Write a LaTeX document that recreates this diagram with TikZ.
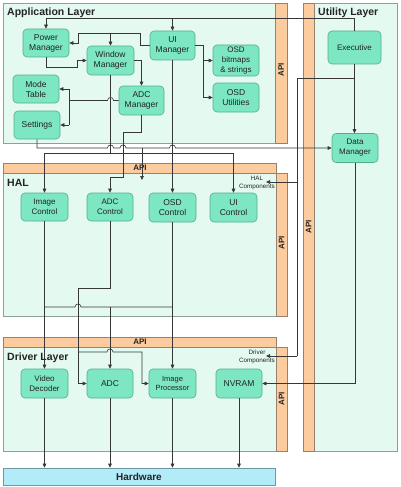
\documentclass[tikz,border=0pt]{standalone}
\usepackage{fontspec}
\setmainfont{Liberation Sans}
\usetikzlibrary{arrows.meta}
\definecolor{layerbg}{RGB}{228,250,241}
\definecolor{layerln}{RGB}{140,162,152}
\definecolor{apibg}{RGB}{252,204,158}
\definecolor{apiln}{RGB}{150,130,110}
\definecolor{boxbg}{RGB}{125,230,194}
\definecolor{boxln}{RGB}{80,175,140}
\definecolor{hwbg}{RGB}{178,236,248}
\definecolor{hwln}{RGB}{110,150,165}
\definecolor{wirec}{RGB}{55,55,55}
\definecolor{txt}{RGB}{35,35,35}
\begin{document}
\begin{tikzpicture}[x=1pt,y=-1pt,
  layer/.style={fill=layerbg,draw=layerln,line width=0.8pt},
  apibar/.style={fill=apibg,draw=apiln,line width=0.6pt},
  comp/.style={draw=boxln,fill=boxbg,rounded corners=4pt,line width=0.6pt,align=center,
    font=\fontsize{8.5}{10}\selectfont,text=txt,inner sep=0pt},
  hwbox/.style={draw=hwln,fill=hwbg,line width=0.6pt,font=\bfseries\fontsize{10}{12}\selectfont,text=txt,inner sep=0pt},
  ttl/.style={anchor=west,font=\bfseries\fontsize{10.5}{12}\selectfont,text=txt,inner sep=0pt},
  apit/.style={font=\bfseries\fontsize{8}{9}\selectfont,text=txt,inner sep=0pt},
  wire/.style={draw=wirec,line width=0.6pt},
  arr/.style={wire,-{Triangle[length=4pt,width=3.6pt]}},
  smalltxt/.style={font=\fontsize{6.3}{8}\selectfont,align=center,text=txt,inner sep=0pt}
]
\useasboundingbox (0,0) rectangle (400,487);
\fill[white] (0,0) rectangle (400,487);

% ---------- layers ----------
% Application
\path[layer] (3,3) rectangle (287,143);
\path[apibar] (275,3) rectangle (287,143);
\node[apit,rotate=90] (apiA) at (281,70) {API};
\node[ttl] (tA) at (7,13) {Application Layer};
% Utility
\path[layer] (303,3) rectangle (397,451);
\path[apibar] (303,3) rectangle (314,451);
\node[apit,rotate=90] (apiU) at (308.5,227) {API};
\node[ttl] (tU) at (318,13) {Utility Layer};
% HAL
\path[layer] (3,173) rectangle (276,316);
\path[apibar] (3,163) rectangle (276,173);
\path[apibar] (276,173) rectangle (287,316);
\node[apit] (apiH) at (140,168) {API};
\node[apit,rotate=90] (apiH2) at (281.5,243) {API};
\node[ttl] (tH) at (7,183) {HAL};
% Driver
\path[layer] (3,347) rectangle (276,451);
\path[apibar] (3,337) rectangle (276,347);
\path[apibar] (276,347) rectangle (287,451);
\node[apit] (apiD) at (140,342) {API};
\node[apit,rotate=90] (apiD2) at (281.5,399) {API};
\node[ttl] (tD) at (7,358) {Driver Layer};

% ---------- components ----------
\node[comp,minimum width=46pt,minimum height=28pt] (pm) at (46,43) {Power\\Manager};
\node[comp,minimum width=47pt,minimum height=29pt] (wm) at (110.5,60.5) {Window\\Manager};
\node[comp,minimum width=45pt,minimum height=29pt] (ui) at (172.5,45.5) {UI\\Manager};
\node[comp,minimum width=46pt,minimum height=31pt,font=\fontsize{8}{10}\selectfont] (osdb) at (236,60.5) {OSD\\bitmaps\\\& strings};
\node[comp,minimum width=46pt,minimum height=29pt] (osdu) at (236,97.5) {OSD\\Utilities};
\node[comp,minimum width=46pt,minimum height=28pt] (mt) at (36,89) {Mode\\Table};
\node[comp,minimum width=45pt,minimum height=29pt] (adcm) at (141.5,100.5) {ADC\\Manager};
\node[comp,minimum width=46pt,minimum height=28pt] (set) at (37,125) {Settings};
\node[comp,minimum width=53pt,minimum height=33pt,font=\fontsize{8}{10}\selectfont] (exe) at (354.5,47.5) {Executive};
\node[comp,minimum width=46pt,minimum height=29pt,font=\fontsize{8}{10}\selectfont] (dm) at (355,148) {Data\\Manager};

\node[comp,minimum width=47pt,minimum height=28pt,font=\fontsize{8}{10}\selectfont] (ic) at (44.5,207) {Image\\Control};
\node[comp,minimum width=46pt,minimum height=28pt,font=\fontsize{8}{10}\selectfont] (adcc) at (110,207) {ADC\\Control};
\node[comp,minimum width=47pt,minimum height=29pt] (osdc) at (172.5,207.5) {OSD\\Control};
\node[comp,minimum width=47pt,minimum height=29pt] (uic) at (233.5,207.5) {UI\\Control};
\node[smalltxt] (halc) at (257,183) {HAL\\Components};

\node[comp,minimum width=47pt,minimum height=29pt,font=\fontsize{8}{10}\selectfont] (vd) at (44.5,383.5) {Video\\Decoder};
\node[comp,minimum width=46pt,minimum height=29pt] (adc) at (110,383.5) {ADC};
\node[comp,minimum width=47pt,minimum height=29pt,font=\fontsize{7.5}{9.5}\selectfont] (ip) at (172.5,383.5) {Image\\Processor};
\node[comp,minimum width=46pt,minimum height=29pt] (nv) at (239,383.5) {NVRAM};
\node[smalltxt] (drvc) at (257,357) {Driver\\Components};

\node[hwbox,minimum width=272pt,minimum height=17pt] (hw) at (139,476.5) {Hardware};

\coordinate (halin) at (142,180);
\coordinate (halcin) at (266,182);
\coordinate (drvcin) at (266,356);

% ---------- connectors: application layer ----------
\draw[arr] (exe.north) -- ++(0,-12) -| (pm.north);
\draw[arr] (ui.north |- 0,19) -- (ui.north);
\draw[arr] (ui.west) -- (140,45.5) -- (140,33) -- (78,33) -- (78,43) -- (pm.east);
\draw[arr] (wm.north |- 0,33) -- (wm.north);
\draw[arr] (pm.south) -- (46,67) -- (77,67) -- (77,60.5) -- (wm.west);
\draw[arr] (wm.east) -| (adcm.north);
\draw[wire] (adcm.west) -- (113.5,100.5) .. controls (113.5,96.5) and (107.5,96.5) .. (107.5,100.5) -- (69,100.5);
\draw[wire] (69,89) -- (69,125);
\draw[arr] (69,89) -- (mt.east);
\draw[arr] (69,125) -- (set.east);
\draw[arr] (ui.east) -- (203,45.5) |- (osdu.west);
\draw[arr] (203,60.5) -- (osdb.west);

% ---------- connectors: application -> HAL / utility ----------
\draw[arr] (set.south) -- (37,148) -- (107.5,148) .. controls (107.5,144) and (113.5,144) .. (113.5,148)
  -- (120,148) .. controls (120,144) and (126,144) .. (126,148)
  -- (169.5,148) .. controls (169.5,144) and (175.5,144) .. (175.5,148) -- (dm.west);
\draw[arr] (142,148) -- (halin);
\draw[wire] (wm.south) -- (110.5,153);
\draw[arr] (110.5,153) -| (ic.north);
\draw[arr] (110.5,153) -| (uic.north);
\draw[arr] (adcm.south) -- (141.5,132) -- (123,132) -- (123,177) -- (110,177) -- (adcc.north);
\draw[arr] (ui.south) -- (osdc.north);

% ---------- utility layer ----------
\draw[arr] (exe.south) -- (exe.south |- dm.north);
\draw[wire] (354.5,78) -- (297,78) -- (297,356);
\draw[arr] (297,356) -- (drvcin);
\draw[arr] (297,182) -- (halcin);
\draw[arr] (dm.south) |- (nv.east);

% ---------- HAL -> driver ----------
\draw[arr] (ic.south) -- (vd.north);
\draw[wire] (44.5,307) -- (75,307) .. controls (75,303) and (81,303) .. (81,307) -- (172.5,307);
\draw[arr] (110,307) -- (adc.north);
\draw[arr] (osdc.south) -- (ip.north);
\draw[arr] (adcc.south) -- (110,288) -- (78,288) -- (78,383.5) -- (adc.west);
\draw[arr] (78,352) -- (107,352) .. controls (107,348) and (113,348) .. (113,352) -- (142,352) -- (142,383.5) -- (ip.west);

% ---------- driver -> hardware ----------
\draw[arr] (vd.south) -- (vd.south |- hw.north);
\draw[arr] (adc.south) -- (adc.south |- hw.north);
\draw[arr] (ip.south) -- (ip.south |- hw.north);
\draw[arr] (nv.south) -- (nv.south |- hw.north);
\end{tikzpicture}
\end{document}
